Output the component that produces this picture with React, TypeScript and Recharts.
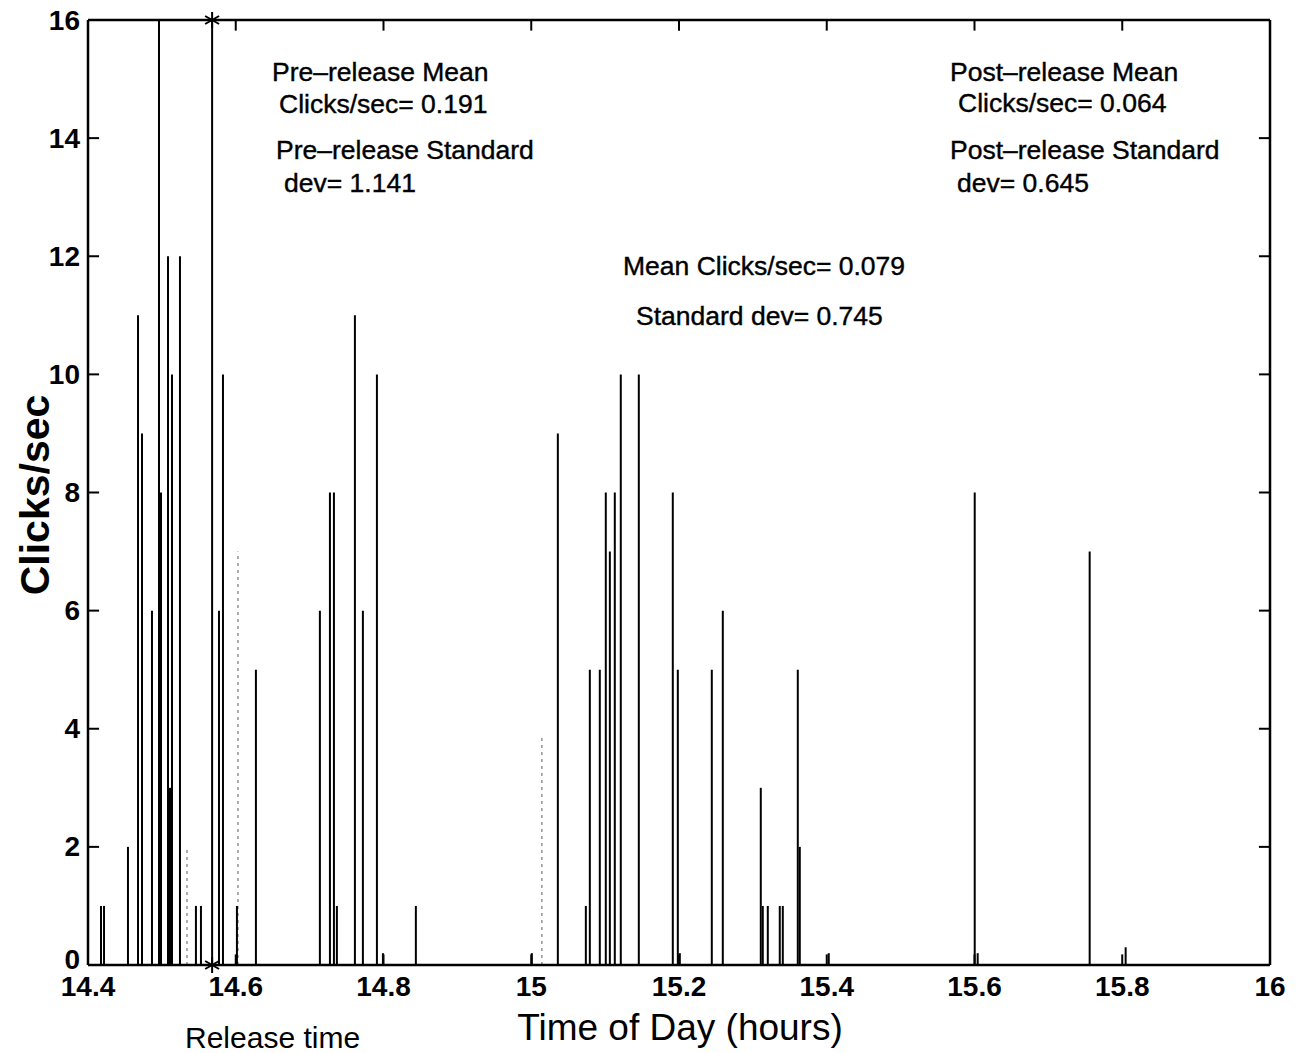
import React from 'react';
import {
    ComposedChart,
    XAxis,
    YAxis,
    Scatter,
    ReferenceLine,
} from 'recharts';

// time of day (hours) for every 1-second bin that had clicks
const spikeTimes = [
    14.4176, 14.4217, 14.4541, 14.4677, 14.4731, 14.4866, 14.4961, 14.4988,
    14.5083, 14.5110, 14.5137, 14.5245, 14.5461, 14.5529, 14.5773, 14.5827,
    14.6016, 14.6273, 14.7139, 14.7275, 14.7329, 14.7369, 14.7613, 14.7721,
    14.7911, 14.7992, 14.8438, 15.0008, 15.0360, 15.0739, 15.0793, 15.0928,
    15.1009, 15.1064, 15.1131, 15.1212, 15.1456, 15.1916, 15.1984, 15.2011,
    15.2444, 15.2593, 15.3107, 15.3134, 15.3202, 15.3364, 15.3405, 15.3608,
    15.3635, 15.4027, 15.6003, 15.6043, 15.7559, 15.8046,
];
const spikeClicks = [
    1, 1, 2, 11, 9, 6, 16, 8,
    12, 3, 10, 12, 1, 1, 6, 10,
    1, 5, 6, 8, 8, 1, 11, 6,
    10, 0.2, 1, 0.2, 9, 1, 5, 5,
    8, 7, 8, 10, 10, 8, 5, 0.2,
    5, 6, 3, 1, 1, 1, 1, 5,
    2, 0.2, 8, 0.2, 7, 0.3,
];

// faint (dotted in the scan) traces
const faintTimes = [14.5340, 14.6030, 15.0144];
const faintClicks = [2, 7, 3.9];

const releaseTime = 14.568;
const xTicks = [14.4, 14.6, 14.8, 15, 15.2, 15.4, 15.6, 15.8, 16];
const yTicks = [0, 2, 4, 6, 8, 10, 12, 14, 16];

const notes = [
    { text: 'Pre–release Mean', x: 272, y: 72 },
    { text: 'Clicks/sec= 0.191', x: 279, y: 104 },
    { text: 'Pre–release Standard', x: 276, y: 150 },
    { text: 'dev= 1.141', x: 284, y: 183 },
    { text: 'Mean Clicks/sec= 0.079', x: 623, y: 266 },
    { text: 'Standard dev= 0.745', x: 636, y: 316 },
    { text: 'Post–release Mean', x: 950, y: 72 },
    { text: 'Clicks/sec= 0.064', x: 958, y: 103 },
    { text: 'Post–release Standard', x: 950, y: 150 },
    { text: 'dev= 0.645', x: 957, y: 183 },
];

const FONT = '"Liberation Sans", Arial, Helvetica, sans-serif';

const spikes = spikeTimes.map((t, i) => ({ t, c: spikeClicks[i] }));
const faint = faintTimes.map((t, i) => ({ t, c: faintClicks[i] }));
const stars = [{ t: releaseTime, c: 0 }, { t: releaseTime, c: 16 }];

const Asterisk = (props: any) => {
    const { cx, cy } = props;
    const r = 8;
    return (
        <g stroke="#000" strokeWidth={2}>
            <line x1={cx} y1={cy - r} x2={cx} y2={cy + r} />
            <line x1={cx - r * 0.87} y1={cy - r * 0.5} x2={cx + r * 0.87} y2={cy + r * 0.5} />
            <line x1={cx - r * 0.87} y1={cy + r * 0.5} x2={cx + r * 0.87} y2={cy - r * 0.5} />
        </g>
    );
};

// y tick label; the "0" sits a little higher so it clears the "14.4" below it
const YTick = (props: any) => {
    const { x, y, payload } = props;
    const lift = payload.value === 0 ? -6 : 0;
    return (
        <text x={x} y={y + lift} textAnchor="end" dominantBaseline="central"
            fill="#000" fontSize={28} fontWeight={700} fontFamily={FONT}>
            {payload.value}
        </text>
    );
};

export default function App() {
    const xTickLen = 0.015; // inner tick length in hours
    const yTickLen = 0.18; // inner tick length in clicks/sec
    const tickStyle = { fill: '#000', fontSize: 28, fontWeight: 700, fontFamily: FONT };
    return (
        <div style={{ position: 'absolute', left: 0, top: 0, width: 1299, height: 1053, background: '#fff' }}>
            <ComposedChart
                width={1299}
                height={1053}
                margin={{ top: 20, right: 29, left: 0, bottom: 0 }}
            >
                <XAxis
                    dataKey="t"
                    type="number"
                    domain={[14.4, 16]}
                    ticks={xTicks}
                    allowDataOverflow
                    height={88}
                    tickLine={false}
                    tickSize={0}
                    tickMargin={11}
                    axisLine={{ stroke: '#000', strokeWidth: 2.5 }}
                    tick={tickStyle}
                />
                <YAxis
                    type="number"
                    domain={[0, 16]}
                    ticks={yTicks}
                    width={88}
                    tickLine={false}
                    tickSize={0}
                    tickMargin={8}
                    axisLine={{ stroke: '#000', strokeWidth: 2.5 }}
                    tick={<YTick />}
                />

                {/* box: top and right edges */}
                <ReferenceLine y={16} stroke="#000" strokeWidth={2.5} />
                <ReferenceLine x={16} stroke="#000" strokeWidth={2.5} />

                {/* inner ticks, MATLAB style */}
                {yTicks.slice(1, -1).map((v) => (
                    <ReferenceLine key={`yl-${v}`} segment={[{ x: 14.4, y: v }, { x: 14.4 + xTickLen, y: v }]} stroke="#000" strokeWidth={2} />
                ))}
                {yTicks.slice(1, -1).map((v) => (
                    <ReferenceLine key={`yr-${v}`} segment={[{ x: 16 - xTickLen, y: v }, { x: 16, y: v }]} stroke="#000" strokeWidth={2} />
                ))}
                {xTicks.slice(1, -1).map((v) => (
                    <ReferenceLine key={`xt-${v}`} segment={[{ x: v, y: 16 - yTickLen }, { x: v, y: 16 }]} stroke="#000" strokeWidth={2} />
                ))}
                {xTicks.slice(1, -1).map((v) => (
                    <ReferenceLine key={`xb-${v}`} segment={[{ x: v, y: 0 }, { x: v, y: yTickLen }]} stroke="#000" strokeWidth={2} />
                ))}

                {faint.map((d, i) => (
                    <ReferenceLine key={`f-${i}`} segment={[{ x: d.t, y: 0 }, { x: d.t, y: d.c }]}
                        stroke="#777" strokeWidth={1.2} strokeDasharray="3 4" />
                ))}
                {spikes.map((d, i) => (
                    <ReferenceLine key={`s-${i}`} segment={[{ x: d.t, y: 0 }, { x: d.t, y: d.c }]}
                        stroke="#000" strokeWidth={2} />
                ))}

                {/* release time marker */}
                <ReferenceLine segment={[{ x: releaseTime, y: 0 }, { x: releaseTime, y: 16 }]} stroke="#000" strokeWidth={2} />
                <Scatter data={stars} dataKey="c" shape={<Asterisk />} isAnimationActive={false} />
            </ComposedChart>

            <svg width={1299} height={1053} style={{ position: 'absolute', left: 0, top: 0, pointerEvents: 'none' }}>
                {notes.map((n) => (
                    <text key={n.text} x={n.x} y={n.y} dominantBaseline="central" fontFamily={FONT} fontSize={26.5}
                        fill="#000" stroke="#000" strokeWidth={0.4}>
                        {n.text}
                    </text>
                ))}
                <text x={185} y={1037} dominantBaseline="central" fontFamily={FONT} fontSize={30} fill="#000">Release time</text>
                <text x={680} y={1027} textAnchor="middle" dominantBaseline="central" fontFamily={FONT} fontSize={37} fill="#000">
                    Time of Day (hours)
                </text>
                <text x={35} y={495} textAnchor="middle" dominantBaseline="central" fontFamily={FONT} fontSize={41}
                    fontWeight={700} fill="#000" transform="rotate(-90 35 495)">
                    Clicks/sec
                </text>
            </svg>
        </div>
    );
}
